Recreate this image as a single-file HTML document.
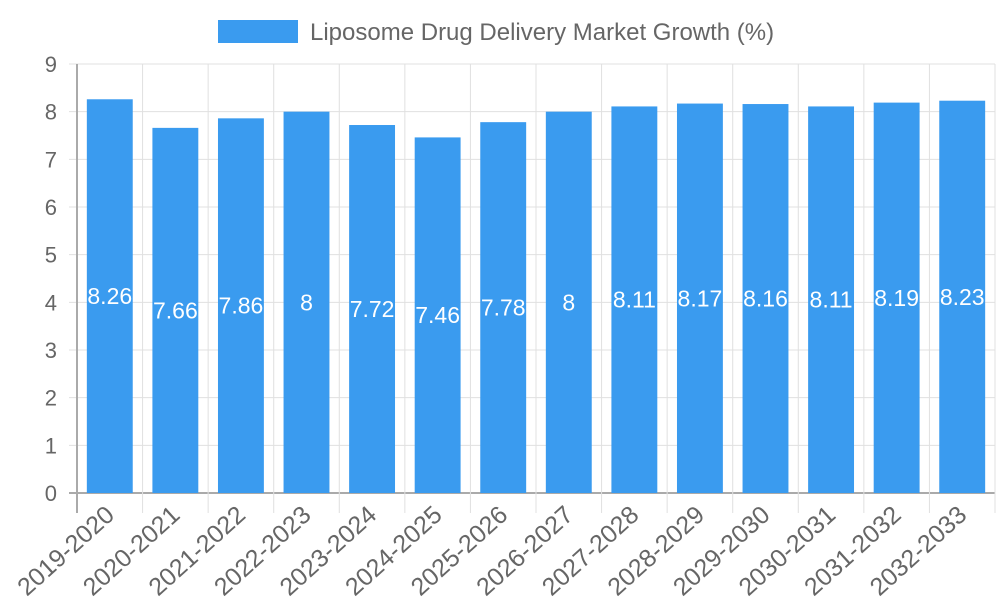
<!DOCTYPE html>
<html><head><style>
body{margin:0;background:#fff;}
svg text{font-family:"Liberation Sans",sans-serif;}
</style></head><body>
<svg id="c" width="1000" height="600">
<rect x="218" y="20" width="80" height="23" fill="#3a9bef"/>
<text x="310" y="40" font-size="24" fill="#666">Liposome Drug Delivery Market Growth (%)</text>
</svg>
<script>
const categories=["2019-2020","2020-2021","2021-2022","2022-2023","2023-2024","2024-2025","2025-2026","2026-2027","2027-2028","2028-2029","2029-2030","2030-2031","2031-2032","2032-2033"];
const values=[8.26,7.66,7.86,8,7.72,7.46,7.78,8,8.11,8.17,8.16,8.11,8.19,8.23];
const yTicks=[0,1,2,3,4,5,6,7,8,9];
const svg=document.getElementById('c');const NS='http://www.w3.org/2000/svg';
const L=77,R=995,T=64,B=493,yMax=9;
const y=v=>B-(v/yMax)*(B-T);
const step=(R-L)/categories.length;
const xc=i=>L+step*(i+0.5);
function mk(t,a,p){const e=document.createElementNS(NS,t);for(const k in a)e.setAttribute(k,a[k]);(p||svg).appendChild(e);return e;}
yTicks.forEach(t=>{
 const g=mk('line',{x1:L-8,x2:R,y1:y(t),y2:y(t),stroke:t===0?'#aaa':'#e0e0e0','stroke-width':t===0?2:1});
 
 
 const tx=mk('text',{x:L-20,y:y(t)+8,'font-size':22,fill:'#666','text-anchor':'end'});tx.textContent=t;
 
 
});
for(let i=0;i<=categories.length;i++){
 const x=L+step*i;
 const g=mk('line',{x1:x,x2:x,y1:T,y2:B+20,stroke:i===0?'#aaa':'#e0e0e0','stroke-width':i===0?2:1});
 
 
}
categories.forEach((c,i)=>{
 const w=step*0.7;
 const b=mk('rect',{x:xc(i)-w/2,y:y(values[i]),width:w,height:B-y(values[i]),fill:'#3a9bef'});
 
 
 const vl=mk('text',{x:xc(i),y:(y(values[i])+B)/2+8,'font-size':23,fill:'#fff','text-anchor':'middle'});vl.textContent=values[i];
 
 
 const xl=mk('text',{x:0,y:0,'font-size':25,fill:'#666','text-anchor':'end',transform:`translate(${xc(i)+6},${B+24}) rotate(-42)`});xl.textContent=c;
 
 
});
</script>
</body></html>
